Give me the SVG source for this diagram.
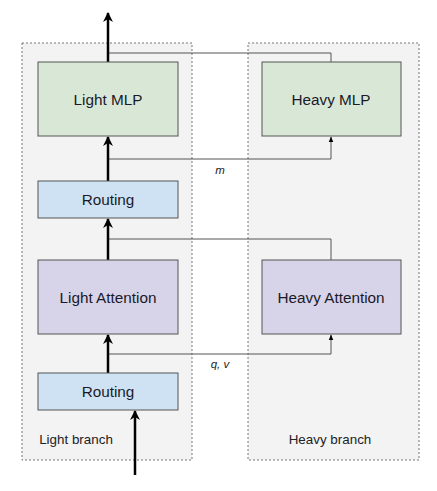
<svg xmlns="http://www.w3.org/2000/svg" width="437" height="491" viewBox="0 0 437 491">
<defs>
<style>
.branch{fill:#f3f3f4;stroke:#777;stroke-width:1;stroke-dasharray:2 2}
.node{stroke:#555;stroke-width:1}
.mlp{fill:#d9e8d6}
.route{fill:#cfe2f3}
.attn{fill:#d7d3e8}
.lbl{font-family:"Liberation Sans",Arial,sans-serif;font-size:15.3px;fill:#1a1a2a;text-anchor:middle}
.blbl{font-family:"Liberation Sans",Arial,sans-serif;font-size:13.4px;fill:#222;text-anchor:middle}
.elbl{font-family:"Liberation Sans",Arial,sans-serif;font-size:11.5px;font-style:italic;fill:#222;text-anchor:middle}
.thick{fill:none;stroke:#000;stroke-width:2.5}
.thin{fill:none;stroke:#555;stroke-width:1}
</style>
<marker id="big" viewBox="0 0 10 10" refX="9" refY="5" markerWidth="10" markerHeight="10" markerUnits="userSpaceOnUse" orient="auto">
<path d="M0,0 L10,5 L0,10 L3,5 Z" fill="#000"/>
</marker>
<marker id="small" viewBox="0 0 10 10" refX="9" refY="5" markerWidth="6" markerHeight="6" markerUnits="userSpaceOnUse" orient="auto">
<path d="M0,1 L10,5 L0,9 Z" fill="#000"/>
</marker>
</defs>
<g id="light-branch">
<rect class="branch" x="22" y="43" width="170" height="417"/>
<text class="blbl" x="76" y="444">Light branch</text>
</g>
<g id="heavy-branch">
<rect class="branch" x="248" y="43" width="171" height="417"/>
<text class="blbl" x="330" y="444">Heavy branch</text>
</g>
<g id="connectors">
<path class="thin" d="M108,53 H331 V62"/>
<path class="thin" d="M108,159 H331 V137" marker-end="url(#small)"/>
<path class="thin" d="M108,239 H331 V260"/>
<path class="thin" d="M108,354 H331 V335" marker-end="url(#small)"/>
<path class="thick" d="M108,62 V13" marker-end="url(#big)"/>
<path class="thick" d="M108,181 V137" marker-end="url(#big)"/>
<path class="thick" d="M108,260 V219" marker-end="url(#big)"/>
<path class="thick" d="M108,373 V335" marker-end="url(#big)"/>
<path class="thick" d="M135,475 V411" marker-end="url(#big)"/>
<text class="elbl" x="220" y="174">m</text>
<text class="elbl" x="220" y="368">q, v</text>
</g>
<g id="light-mlp">
<rect class="node mlp" x="38" y="62" width="140" height="74"/>
<text class="lbl" x="108" y="105">Light MLP</text>
</g>
<g id="heavy-mlp">
<rect class="node mlp" x="262" y="62" width="139" height="74"/>
<text class="lbl" x="331" y="105">Heavy MLP</text>
</g>
<g id="routing-top">
<rect class="node route" x="38" y="181" width="140" height="37"/>
<text class="lbl" x="108" y="205">Routing</text>
</g>
<g id="light-attention">
<rect class="node attn" x="38" y="260" width="140" height="74"/>
<text class="lbl" x="108" y="303">Light Attention</text>
</g>
<g id="heavy-attention">
<rect class="node attn" x="262" y="260" width="139" height="74"/>
<text class="lbl" x="331" y="303">Heavy Attention</text>
</g>
<g id="routing-bottom">
<rect class="node route" x="38" y="373" width="140" height="37"/>
<text class="lbl" x="108" y="397">Routing</text>
</g>
</svg>
